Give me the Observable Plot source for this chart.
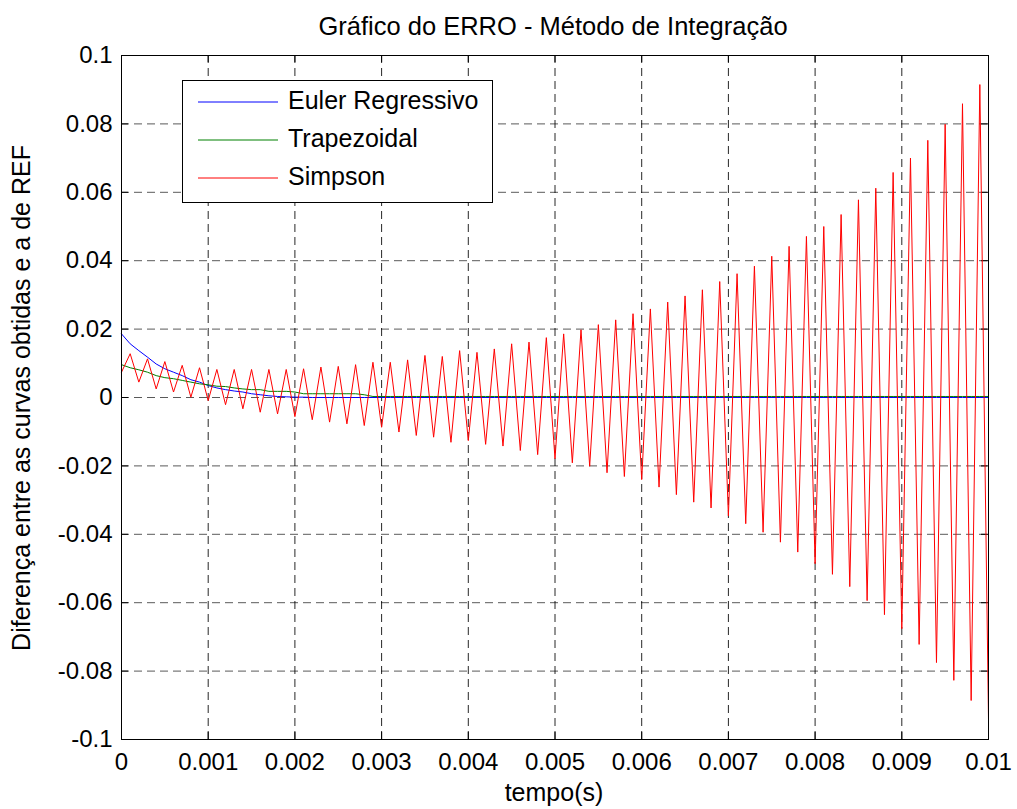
<!DOCTYPE html>
<html>
<head>
<meta charset="utf-8">
<script src="https://cdn.jsdelivr.net/npm/d3@7"></script>
<script src="https://cdn.jsdelivr.net/npm/@observablehq/plot@0.6"></script>
<style>
  html, body { margin: 0; padding: 0; background: #fff; }
  #chart { width: 1017px; height: 809px; }
</style>
</head>
<body>
<div id="chart"></div>
<script>
// ---- Data ----
const titleText = "Gráfico do ERRO - Método de Integração";
const xLabel = "tempo(s)";
const yLabel = "Diferença entre as curvas obtidas e a de REF";
const seriesNames = ["Euler Regressivo", "Trapezoidal", "Simpson"];
const seriesColors = ["#0000ff", "#008000", "#ff0000"];

const xTicks = [0, 0.001, 0.002, 0.003, 0.004, 0.005, 0.006, 0.007, 0.008, 0.009, 0.01];
const xTickLabels = ["0", "0.001", "0.002", "0.003", "0.004", "0.005", "0.006", "0.007", "0.008", "0.009", "0.01"];
const yTicks = [-0.1, -0.08, -0.06, -0.04, -0.02, 0, 0.02, 0.04, 0.06, 0.08, 0.1];
const yTickLabels = ["-0.1", "-0.08", "-0.06", "-0.04", "-0.02", "0", "0.02", "0.04", "0.06", "0.08", "0.1"];

const sampleStep = 0.0001; // time step between samples (s)

const euler = [
  0.0186, 0.0157, 0.0137, 0.0118, 0.0098, 0.0084, 0.0074, 0.0064, 0.0052, 0.0045,
  0.0035, 0.0028, 0.0023, 0.0019, 0.0016, 0.0011, 0.0008, 0.0005, 0.0003, 0.0002,
  0.0001, 0.0001, 0, 0, 0, 0, 0, 0, 0, 0,
  0, 0, 0, 0, 0, 0, 0, 0, 0, 0,
  0, 0, 0, 0, 0, 0, 0, 0, 0, 0,
  0, 0, 0, 0, 0, 0, 0, 0, 0, 0,
  0, 0, 0, 0, 0, 0, 0, 0, 0, 0,
  0, 0, 0, 0, 0, 0, 0, 0, 0, 0,
  0, 0, 0, 0, 0, 0, 0, 0, 0, 0,
  0, 0, 0, 0, 0, 0, 0, 0, 0, 0,
  0
];

const trapezoidal = [
  0.0096, 0.0087, 0.0081, 0.0074, 0.0064, 0.0058, 0.0055, 0.0050, 0.0045, 0.0040,
  0.0037, 0.0033, 0.0032, 0.0028, 0.0025, 0.0023, 0.0023, 0.0018, 0.0018, 0.0018,
  0.0016, 0.0011, 0.0011, 0.0011, 0.0011, 0.0011, 0.0011, 0.0011, 0.0008, 0.0003,
  0.0003, 0.0003, 0.0003, 0.0003, 0.0003, 0.0003, 0.0003, 0.0003, 0.0003, 0.0003,
  0.0003, 0.0003, 0.0003, 0.0003, 0.0003, 0.0003, 0.0003, 0.0003, 0.0003, 0.0003,
  0.0003, 0.0003, 0.0003, 0.0003, 0.0003, 0.0003, 0.0003, 0.0003, 0.0003, 0.0003,
  0.0003, 0.0003, 0.0003, 0.0003, 0.0003, 0.0003, 0.0003, 0.0003, 0.0003, 0.0003,
  0.0003, 0.0003, 0.0003, 0.0003, 0.0003, 0.0003, 0.0003, 0.0003, 0.0003, 0.0003,
  0.0003, 0.0003, 0.0003, 0.0003, 0.0003, 0.0003, 0.0003, 0.0003, 0.0003, 0.0003,
  0.0003, 0.0003, 0.0003, 0.0003, 0.0003, 0.0003, 0.0003, 0.0003, 0.0003, 0.0003,
  0.0003
];

const simpson = [
  0.0074, 0.0128, 0.0045, 0.0113, 0.0025, 0.0105, 0.0016, 0.0094, 0.0001, 0.0087,
  -0.0009, 0.0082, -0.0021, 0.0082, -0.0033, 0.0082, -0.0043, 0.0082, -0.0048, 0.0082,
  -0.0056, 0.0084, -0.0065, 0.0089, -0.0072, 0.0091, -0.0077, 0.0096, -0.0082, 0.0103,
  -0.0087, 0.0103, -0.0101, 0.0110, -0.0111, 0.0123, -0.0116, 0.0120, -0.0131, 0.0137,
  -0.0126, 0.0132, -0.0137, 0.0142, -0.0142, 0.0157, -0.0155, 0.0162, -0.0167, 0.0175,
  -0.0179, 0.0186, -0.0191, 0.0198, -0.0201, 0.0213, -0.0220, 0.0227, -0.0231, 0.0245,
  -0.0240, 0.0259, -0.0262, 0.0279, -0.0284, 0.0297, -0.0306, 0.0315, -0.0323, 0.0339,
  -0.0346, 0.0362, -0.0369, 0.0384, -0.0394, 0.0413, -0.0423, 0.0442, -0.0452, 0.0471,
  -0.0486, 0.0500, -0.0517, 0.0535, -0.0553, 0.0578, -0.0594, 0.0612, -0.0635, 0.0658,
  -0.0676, 0.0700, -0.0722, 0.0752, -0.0775, 0.0799, -0.0827, 0.0859, -0.0886, 0.0915,
  -0.0942
];

// ---- Chart ----
const W = 1017, H = 809;
const mTop = 55, mRight = 29, mBottom = 70, mLeft = 121;
const frameW = W - mLeft - mRight, frameH = H - mTop - mBottom;
const tickLen = 7;
const font = "'Liberation Sans', Arial, Helvetica, sans-serif";

const timeOf = (d, i) => i * sampleStep;

const chart = Plot.plot({
  width: W,
  height: H,
  marginTop: mTop,
  marginRight: mRight,
  marginBottom: mBottom,
  marginLeft: mLeft,
  style: { fontFamily: font, background: "#fff", overflow: "visible", color: "#000" },
  x: { domain: [0, 0.01], axis: null },
  y: { domain: [-0.1, 0.1], axis: null },
  marks: [
    // dashed grid
    Plot.ruleX(xTicks, { x: d => d, stroke: "#000", strokeOpacity: 0.85, strokeWidth: 1, strokeDasharray: "8,5" }),
    Plot.ruleY(yTicks, { y: d => d, stroke: "#000", strokeOpacity: 0.65, strokeWidth: 1, strokeDasharray: "8,5" }),
    // inward tick marks on all four sides
    Plot.ruleX(xTicks, { x: d => d, insetTop: frameH - tickLen, stroke: "#000" }),
    Plot.ruleX(xTicks, { x: d => d, insetBottom: frameH - tickLen, stroke: "#000" }),
    Plot.ruleY(yTicks, { y: d => d, insetRight: frameW - tickLen, stroke: "#000" }),
    Plot.ruleY(yTicks, { y: d => d, insetLeft: frameW - tickLen, stroke: "#000" }),
    // series
    Plot.line(euler, { x: timeOf, y: d => d, stroke: seriesColors[0], strokeWidth: 1 }),
    Plot.line(trapezoidal, { x: timeOf, y: d => d, stroke: seriesColors[1], strokeWidth: 1 }),
    Plot.line(simpson, { x: timeOf, y: d => d, stroke: seriesColors[2], strokeWidth: 1 }),
    // frame
    Plot.frame({ stroke: "#000", strokeWidth: 1 }),
    // tick labels
    Plot.text(xTicks, { x: d => d, y: -0.1, text: (d, i) => xTickLabels[i], dy: 23, lineAnchor: "middle", textAnchor: "middle", fontSize: 24, fill: "#000" }),
    Plot.text(yTicks, { x: 0, y: d => d, text: (d, i) => yTickLabels[i], dx: -9, textAnchor: "end", lineAnchor: "middle", fontSize: 24, fill: "#000" })
  ]
});

const svg = d3.select(chart);

// title
svg.append("text")
  .attr("x", 553).attr("y", 28)
  .attr("text-anchor", "middle").attr("dominant-baseline", "middle")
  .style("font-family", font).style("font-size", "25.5px").attr("fill", "#000")
  .text(titleText);

// x label
svg.append("text")
  .attr("x", 554).attr("y", 794)
  .attr("text-anchor", "middle").attr("dominant-baseline", "middle")
  .style("font-family", font).style("font-size", "25px").attr("fill", "#000")
  .text(xLabel);

// y label
svg.append("text")
  .attr("transform", "translate(23,398) rotate(-90)")
  .attr("text-anchor", "middle").attr("dominant-baseline", "middle")
  .style("font-family", font).style("font-size", "25px").attr("fill", "#000")
  .text(yLabel);

// legend box
const lg = svg.append("g");
lg.append("rect")
  .attr("x", 182.5).attr("y", 80.5).attr("width", 310).attr("height", 122)
  .attr("fill", "#fff").attr("stroke", "#000").attr("stroke-width", 1);
const rowY = [102, 140, 178];
seriesNames.forEach((name, i) => {
  lg.append("line")
    .attr("x1", 198).attr("x2", 278).attr("y1", rowY[i]).attr("y2", rowY[i])
    .attr("stroke", seriesColors[i]).attr("stroke-width", 1);
  lg.append("text")
    .attr("x", 288).attr("y", rowY[i])
    .attr("text-anchor", "start")
    .attr("dominant-baseline", "middle")
    .style("font-family", font).style("font-size", "25px").attr("fill", "#000")
    .text(name);
});

document.getElementById("chart").appendChild(chart);
</script>
</body>
</html>
